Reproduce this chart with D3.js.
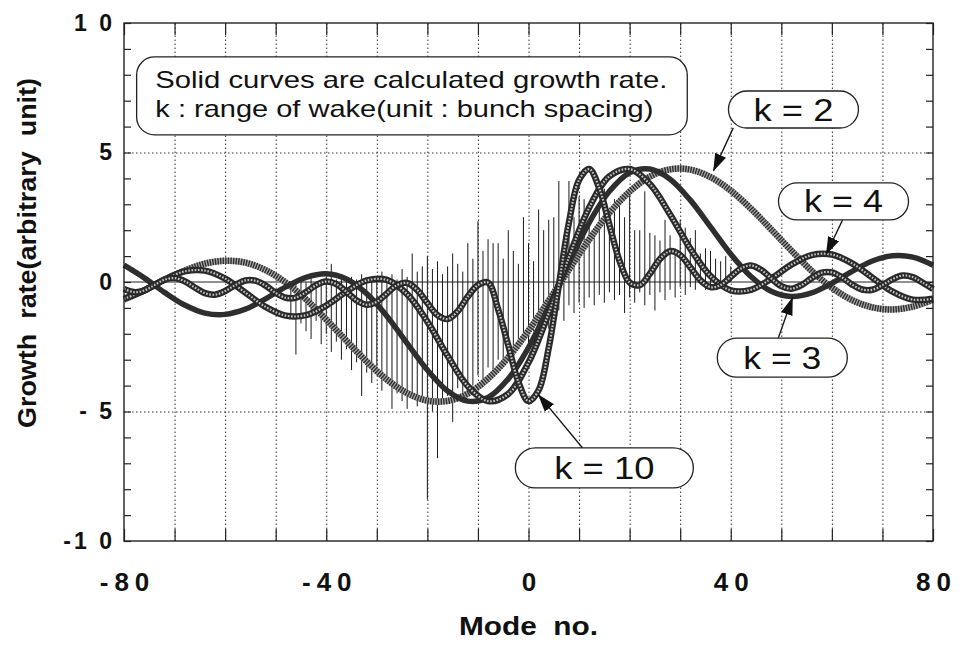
<!DOCTYPE html>
<html>
<head>
<meta charset="utf-8">
<script src="https://cdn.jsdelivr.net/npm/d3@7"></script>
<style>
  body { margin: 0; background: #fff; }
  svg { display: block; }
  text { font-family: "Liberation Sans", Arial, Helvetica, sans-serif; fill: #111; }
</style>
</head>
<body>
<div id="chart"></div>
<script>
// Mode numbers where the calculated curves were read
var curveModes = [-80,-76,-72,-68,-64,-60,-56,-52,-48,-44,-40,-36,-32,-28,-24,-20,-16,-12,-8,-4,
                  0,4,8,12,16,20,24,28,32,36,40,44,48,52,56,60,64,68,72,76,80];
var k10Modes = [-80,-78,-76,-74,-72,-70,-68,-66,-64,-62,-60,-58,-56,-54,-52,-50,-48,-46,-44,-42,
                -40,-38,-36,-34,-32,-30,-28,-26,-24,-22,-20,-18,-16,-14,-12,-10,-8,-6,-4,-2,
                0,2,4,6,8,10,12,14,16,18,20,22,24,26,28,30,32,34,36,38,
                40,42,44,46,48,50,52,54,56,58,60,62,64,66,68,70,72,74,76,78,80];

// Calculated growth rate for each wake range k
var growthK2 = [-0.68,-0.32,0.08,0.44,0.71,0.82,0.75,0.46,-0.02,-0.67,
                -1.45,-2.27,-3.07,-3.77,-4.29,-4.58,-4.59,-4.31,-3.73,-2.91,
                -1.88,-0.72,0.48,1.64,2.67,3.49,4.07,4.35,4.34,4.05,
                3.53,2.83,2.03,1.21,0.43,-0.22,-0.70,-0.98,-1.06,-0.95,-0.68];
var growthK3 = [0.65,0.16,-0.40,-0.89,-1.20,-1.25,-1.05,-0.65,-0.19,0.18,
                0.32,0.12,-0.45,-1.32,-2.37,-3.40,-4.21,-4.60,-4.46,-3.74,
                -2.53,-0.96,0.72,2.29,3.50,4.22,4.36,3.97,3.16,2.13,
                1.08,0.21,-0.36,-0.56,-0.42,-0.05,0.41,0.81,1.01,0.96,0.65];
var growthK4 = [-0.65,-0.33,0.09,0.41,0.44,0.13,-0.41,-0.96,-1.30,-1.28,
                -0.91,-0.37,0.06,0.08,-0.47,-1.53,-2.85,-4.02,-4.60,-4.32,
                -3.11,-1.20,0.96,2.87,4.08,4.36,3.78,2.61,1.29,0.23,
                -0.32,-0.30,0.13,0.67,1.04,1.06,0.72,0.17,-0.37,-0.68,-0.65];
var growthK10 = [-0.27,-0.39,-0.33,-0.12,0.09,0.15,0.03,-0.21,-0.43,-0.49,
                 -0.35,-0.12,0.06,0.05,-0.14,-0.42,-0.61,-0.60,-0.39,-0.12,
                 0.02,-0.08,-0.38,-0.71,-0.88,-0.76,-0.44,-0.12,-0.04,-0.31,
                 -0.81,-1.28,-1.43,-1.13,-0.56,-0.12,-0.02,-1.06,-2.45,-3.86,
                 -4.60,-4.18,-2.54,-0.12,2.30,3.94,4.36,3.62,2.21,0.82,
                 -0.02,-0.12,0.32,0.89,1.19,1.04,0.57,0.07,-0.20,-0.12,
                 0.20,0.52,0.64,0.47,0.14,-0.16,-0.26,-0.12,0.15,0.36,
                 0.37,0.18,-0.10,-0.29,-0.30,-0.12,0.11,0.25,0.19,-0.03,-0.27];

// Measured growth rate: range (top / bottom) for every mode
var barModes = [-47,-46,-45,-44,-43,-42,-41,-40,-39,-38,-37,-36,-35,-34,-33,-32,-31,-30,-29,-28,
                -27,-26,-25,-24,-23,-22,-21,-20,-19,-18,-17,-16,-15,-14,-13,-12,-11,-10,-9,-8,
                -7,-6,-5,-4,-3,-2,-1,0,1,2,3,4,5,6,7,8,9,10,11,12,13,14,15,16,17,18,19,20,21,22,
                23,24,25,26,27,28,29,30,31,32,33,34,35,36,37,38,39,40];
var barTop = [0.0,0.0,0.1,0.0,0.2,0.0,0.1,0.2,0.7,0.1,
              0.3,0.0,0.2,0.1,0.3,0.0,0.2,0.1,0.4,0.2,
              0.3,0.1,0.5,0.2,1.1,0.4,0.6,1.0,0.5,0.8,
              0.3,0.6,1.1,0.7,0.4,1.5,0.9,2.35,1.2,1.65,
              1.5,1.5,0.9,2.0,1.2,0.7,2.5,1.5,0.8,2.8,
              2.0,2.4,2.5,3.9,1.8,3.9,2.5,3.3,3.2,2.2,
              1.8,3.0,3.6,2.8,3.2,3.1,2.5,3.6,2.0,2.0,
              3.5,1.9,1.8,1.6,2.4,1.8,1.3,2.4,2.1,1.7,
              2.0,1.1,1.3,1.2,0.9,0.8,1.0,0.6];
var barBottom = [-1.2,-2.8,-1.6,-1.9,-2.2,-1.5,-2.4,-2.0,-2.7,-2.3,
                 -3.0,-2.6,-3.4,-3.1,-4.4,-3.5,-3.9,-3.6,-4.2,-3.9,
                 -4.9,-4.3,-4.6,-4.9,-4.4,-4.8,-4.5,-8.4,-5.0,-6.8,
                 -4.7,-4.4,-5.4,-4.1,-4.3,-3.9,-4.0,-3.6,-3.8,-3.3,
                 -3.5,-3.0,-3.2,-2.7,-2.9,-2.5,-2.2,-2.6,-1.9,-2.1,
                 -1.6,-1.8,-1.3,-1.1,-1.5,-0.9,-1.2,-0.8,-1.0,-0.6,
                 -0.9,-0.5,-0.8,-0.4,-0.7,-0.5,-1.2,-0.6,-0.8,-0.4,
                 -0.9,-0.5,-1.1,-0.4,-0.7,-0.3,-0.6,-0.2,-0.5,-0.2,
                 -0.3,-0.1,-0.3,-0.1,-0.2,0.0,-0.1,0.0];

// Tick labels
var xTickValues = [-80, -40, 0, 40, 80];
var xTickText = ["-80", "-40", "0", "40", "80"];
var yTickValues = [-10, -5, 0, 5, 10];
var yTickText = ["-1 0", "- 5", "0", "5", "1 0"];

(function() {
  var margin = {top: 23, right: 27, bottom: 104, left: 124},
      width = 960 - margin.left - margin.right,
      height = 645 - margin.top - margin.bottom;

  var root = d3.select("#chart").append("svg")
      .attr("width", 960)
      .attr("height", 645);

  var svg = root.append("g")
      .attr("transform", "translate(" + margin.left + "," + margin.top + ")");

  var x = d3.scaleLinear().domain([-80, 80]).range([0, width]);
  var y = d3.scaleLinear().domain([-10, 10]).range([height, 0]);

  // dotted grid
  svg.append("g")
      .attr("transform", "translate(0," + height + ")")
      .call(d3.axisBottom(x).tickValues(d3.range(-70, 80, 10)).tickSize(-height).tickFormat(""))
      .call(function(g) { g.select(".domain").remove(); })
      .selectAll("line")
        .attr("stroke", "#333")
        .attr("stroke-width", 1)
        .attr("stroke-dasharray", "1.5,2.5");

  svg.append("g")
      .call(d3.axisLeft(y).tickValues([-5, 5]).tickSize(-width).tickFormat(""))
      .call(function(g) { g.select(".domain").remove(); })
      .selectAll("line")
        .attr("stroke", "#333")
        .attr("stroke-width", 1)
        .attr("stroke-dasharray", "1.5,2.5");

  // inner ticks on all four sides
  var minorY = d3.range(-10, 11, 1);
  var majorX = d3.range(-80, 81, 10);
  function tickStyle(g) {
    g.select(".domain").remove();
    g.selectAll("line").attr("stroke", "#222").attr("stroke-width", 1.2);
  }
  svg.append("g").call(d3.axisRight(y).tickValues(minorY).tickSize(7).tickFormat("")).call(tickStyle);
  svg.append("g").attr("transform", "translate(" + width + ",0)")
      .call(d3.axisLeft(y).tickValues(minorY).tickSize(7).tickFormat("")).call(tickStyle);
  svg.append("g").call(d3.axisBottom(x).tickValues(majorX).tickSize(12).tickFormat("")).call(tickStyle);
  svg.append("g").attr("transform", "translate(0," + height + ")")
      .call(d3.axisTop(x).tickValues(majorX).tickSize(12).tickFormat("")).call(tickStyle);

  // zero line
  svg.append("line")
      .attr("x1", 0).attr("x2", width)
      .attr("y1", y(0)).attr("y2", y(0))
      .attr("stroke", "#222")
      .attr("stroke-width", 1.2);

  // measured ranges
  var bars = barModes.map(function(m, i) { return {mode: m, top: barTop[i], bottom: barBottom[i]}; });
  svg.selectAll(".bar")
      .data(bars)
    .enter().append("line")
      .attr("class", "bar")
      .attr("x1", function(d) { return x(d.mode); })
      .attr("x2", function(d) { return x(d.mode); })
      .attr("y1", function(d) { return y(d.top); })
      .attr("y2", function(d) { return y(d.bottom); })
      .attr("stroke", "#1a1a1a")
      .attr("stroke-width", 1);

  // calculated curves
  var line = d3.line()
      .x(function(d) { return x(d.mode); })
      .y(function(d) { return y(d.value); })
      .curve(d3.curveCatmullRom.alpha(0.5));

  function toPoints(modes, values) {
    return modes.map(function(m, i) { return {mode: m, value: values[i]}; });
  }

  var curves = svg.append("g");

  function hatched(points) {
    curves.append("path").attr("d", line(points))
        .attr("fill", "none").attr("stroke", "#a8a8a8").attr("stroke-width", 6.5);
    curves.append("path").attr("d", line(points))
        .attr("fill", "none").attr("stroke", "#2e2e2e").attr("stroke-width", 6.5)
        .attr("stroke-dasharray", "1.4,1.2");
  }
  function chain(points) {
    curves.append("path").attr("d", line(points))
        .attr("fill", "none").attr("stroke", "#2a2a2a").attr("stroke-width", 6.5);
    curves.append("path").attr("d", line(points))
        .attr("fill", "none").attr("stroke", "#c4c4c4").attr("stroke-width", 2.2)
        .attr("stroke-dasharray", "1.6,1.6");
  }
  function solid(points) {
    curves.append("path").attr("d", line(points))
        .attr("fill", "none").attr("stroke", "#2e2e2e").attr("stroke-width", 5.5);
  }

  hatched(toPoints(curveModes, growthK2));
  solid(toPoints(curveModes, growthK3));
  chain(toPoints(curveModes, growthK4));
  chain(toPoints(k10Modes, growthK10));

  // frame
  svg.append("rect")
      .attr("width", width).attr("height", height)
      .attr("fill", "none").attr("stroke", "#222").attr("stroke-width", 1.4);

  // tick labels
  svg.append("g")
      .call(d3.axisLeft(y).tickValues(yTickValues).tickSize(0).tickPadding(9)
        .tickFormat(function(d) { return yTickText[yTickValues.indexOf(d)]; }))
      .call(function(g) { g.select(".domain").remove(); })
      .selectAll("text")
        .style("font-size", "23px")
        .style("font-weight", "bold")
        .style("letter-spacing", "3px")
        .style("font-family", "'Liberation Sans', Arial, sans-serif");

  svg.append("g")
      .attr("transform", "translate(0," + height + ")")
      .call(d3.axisBottom(x).tickValues(xTickValues).tickSize(0).tickPadding(32)
        .tickFormat(function(d) { return xTickText[xTickValues.indexOf(d)]; }))
      .call(function(g) { g.select(".domain").remove(); })
      .selectAll("text")
        .attr("dx", 3)
        .style("font-size", "26px")
        .style("font-weight", "bold")
        .style("letter-spacing", "6px")
        .style("font-family", "'Liberation Sans', Arial, sans-serif");

  // axis titles
  svg.append("text")
      .attr("x", width / 2)
      .attr("y", height + 94)
      .attr("text-anchor", "middle")
      .attr("textLength", 139)
      .attr("lengthAdjust", "spacingAndGlyphs")
      .style("font-size", "25px")
      .style("font-weight", "bold")
      .text("Mode\u00a0\u00a0no.");

  svg.append("text")
      .attr("transform", "translate(" + (36 - margin.left) + "," + (253 - margin.top) + ") rotate(-90)")
      .attr("text-anchor", "middle")
      .attr("textLength", 350)
      .attr("lengthAdjust", "spacingAndGlyphs")
      .style("font-size", "26px")
      .style("font-weight", "bold")
      .text("Growth\u00a0\u00a0rate(arbitrary\u00a0\u00a0unit)");

  // note box
  var note = {left: -77.5, right: 31.4, top: 8.69, bottom: 5.68, textX: -73.8,
              lines: [{text: "Solid curves are calculated growth rate.", y: 7.49, len: 512},
                      {text: "k : range of wake(unit : bunch spacing)", y: 6.37, len: 498}]};
  svg.append("rect")
      .attr("x", x(note.left)).attr("y", y(note.top))
      .attr("width", x(note.right) - x(note.left))
      .attr("height", y(note.bottom) - y(note.top))
      .attr("rx", 18).attr("ry", 18)
      .attr("fill", "#fff").attr("stroke", "#222").attr("stroke-width", 1.3);
  note.lines.forEach(function(l) {
    svg.append("text")
        .attr("x", x(note.textX)).attr("y", y(l.y))
        .attr("textLength", l.len)
        .attr("lengthAdjust", "spacingAndGlyphs")
        .style("font-size", "24px")
        .text(l.text);
  });

  // k labels with arrows
  root.append("defs").append("marker")
      .attr("id", "head")
      .attr("markerUnits", "userSpaceOnUse")
      .attr("markerWidth", 18).attr("markerHeight", 12)
      .attr("refX", 17).attr("refY", 6)
      .attr("orient", "auto")
    .append("path")
      .attr("d", "M0,0L18,6L0,12Z")
      .attr("fill", "#111");

  var labels = [
    {text: "k = 2", cx: 52.4, cy: 6.66, w: 130, h: 37, len: 80, fromX: 40.5, fromY: 5.95, toX: 36.6, toY: 4.3},
    {text: "k = 4", cx: 62.3, cy: 3.11, w: 130, h: 37, len: 79, fromX: 62.1, fromY: 2.39, toX: 58.9, toY: 1.08},
    {text: "k = 3", cx: 50.2, cy: -2.92, w: 130, h: 39, len: 78, fromX: 49.4, fromY: -2.16, toX: 52.2, toY: -0.62},
    {text: "k = 10", cx: 15.0, cy: -7.18, w: 178, h: 40, len: 100, fromX: 10.7, fromY: -6.41, toX: 2.0, toY: -4.36}
  ];

  labels.forEach(function(d) {
    svg.append("line")
        .attr("x1", x(d.fromX)).attr("y1", y(d.fromY))
        .attr("x2", x(d.toX)).attr("y2", y(d.toY))
        .attr("stroke", "#111").attr("stroke-width", 1.3)
        .attr("marker-end", "url(#head)");
    svg.append("rect")
        .attr("x", x(d.cx) - d.w / 2).attr("y", y(d.cy) - d.h / 2)
        .attr("width", d.w).attr("height", d.h)
        .attr("rx", d.h / 2).attr("ry", d.h / 2)
        .attr("fill", "#fff").attr("stroke", "#222").attr("stroke-width", 1.3);
    svg.append("text")
        .attr("x", x(d.cx)).attr("y", y(d.cy) + 11)
        .attr("text-anchor", "middle")
        .attr("textLength", d.len)
        .attr("lengthAdjust", "spacingAndGlyphs")
        .style("font-size", "31px")
        .text(d.text);
  });
})();
</script>
</body>
</html>
